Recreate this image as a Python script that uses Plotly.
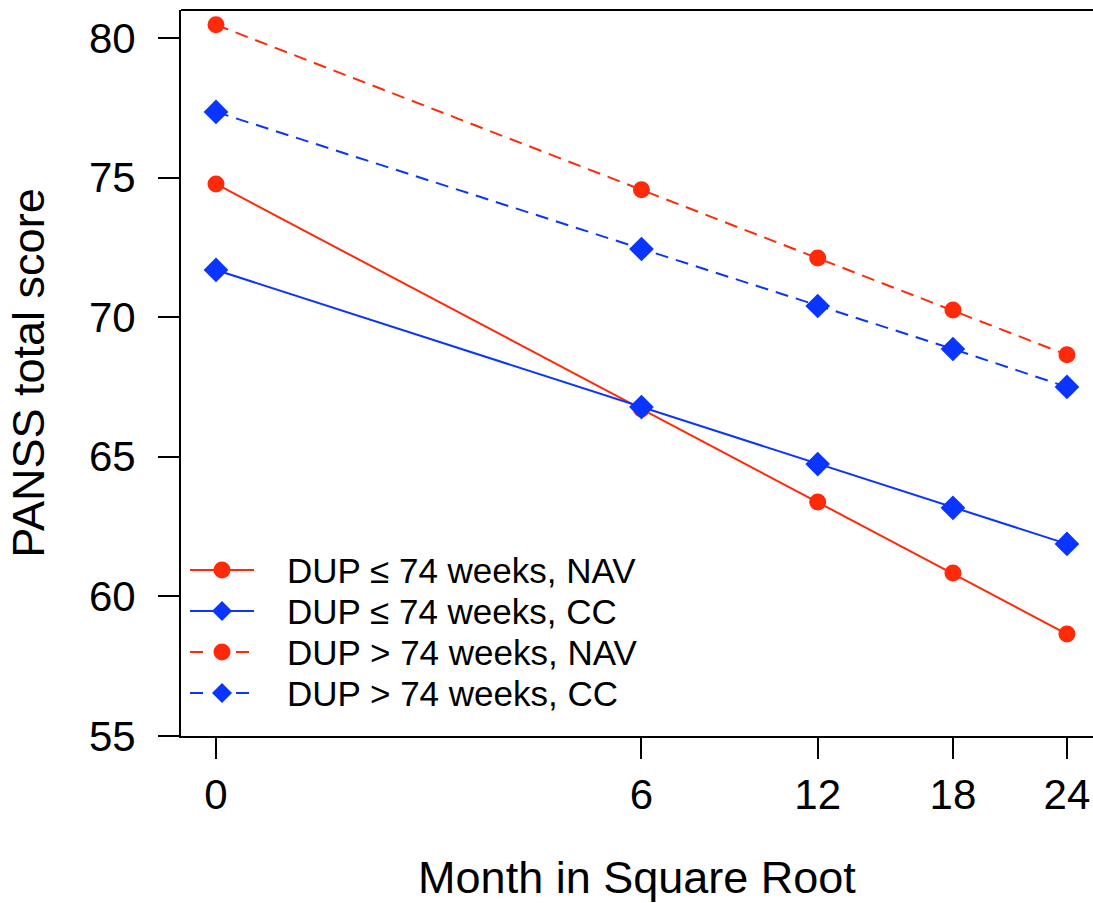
import numpy as np
import plotly.graph_objects as go

# Follow-up months (plotted on a square-root scale)
months = [0, 6, 12, 18, 24]
month_labels = ["0", "6", "12", "18", "24"]

# Estimated PANSS total scores by DUP group and treatment
dup_short_nav = [74.77, 66.71, 63.38, 60.84, 58.65]
dup_short_cc = [71.69, 66.78, 64.74, 63.17, 61.88]
dup_long_nav = [80.47, 74.56, 72.12, 70.26, 68.65]
dup_long_cc = [77.35, 72.44, 70.40, 68.86, 67.50]

y_ticks = [55, 60, 65, 70, 75, 80]

RED = "#FF2A0A"
BLUE = "#0A34FF"
FONT = "Liberation Sans, Arial, sans-serif"
DASH = "13px,8px"

W, H = 1093, 903
ML, MR, MT, MB = 181, 0, 10, 167
PW, PH = W - ML - MR, H - MT - MB

x_sqrt = np.sqrt(months)

series = [
    ("DUP \u2264 74 weeks, NAV", dup_short_nav, RED, "solid", "circle"),
    ("DUP \u2264 74 weeks, CC", dup_short_cc, BLUE, "solid", "diamond"),
    ("DUP > 74 weeks, NAV", dup_long_nav, RED, DASH, "circle"),
    ("DUP > 74 weeks, CC", dup_long_cc, BLUE, DASH, "diamond"),
]

fig = go.Figure()
for name, vals, color, dash, symbol in series:
    fig.add_trace(go.Scatter(
        x=x_sqrt, y=vals, name=name, mode="lines+markers", showlegend=False,
        line=dict(color=color, width=2, dash=dash),
        marker=dict(color=color, symbol=symbol, size=17 if symbol == "circle" else 19,
                    line=dict(width=0)),
    ))


def px(x):
    return (x - ML) / PW


def py(y):
    return (MT + PH - y) / PH


# Legend drawn as a key in the lower-left corner of the plot panel
shapes = [dict(type="line", xref="paper", yref="paper", x0=0, x1=1, y0=1, y1=1,
               line=dict(color="black", width=2))]
annotations = []
key_rows = [570, 611, 652, 693]
for (name, _, color, dash, symbol), yc in zip(series, key_rows):
    if dash == "solid":
        shapes.append(dict(type="line", xref="paper", yref="paper",
                           x0=px(190), x1=px(254), y0=py(yc), y1=py(yc),
                           line=dict(color=color, width=2)))
    else:
        for a, b in [(190, 203), (236, 249)]:
            shapes.append(dict(type="line", xref="paper", yref="paper",
                               x0=px(a), x1=px(b), y0=py(yc), y1=py(yc),
                               line=dict(color=color, width=2)))
    cx = 222
    if symbol == "circle":
        r = 8.5
        shapes.append(dict(type="circle", xref="paper", yref="paper",
                           x0=px(cx - r), x1=px(cx + r), y0=py(yc + r), y1=py(yc - r),
                           fillcolor=color, line=dict(width=0)))
    else:
        h = 10
        path = (f"M {px(cx - h)} {py(yc)} L {px(cx)} {py(yc - h)} "
                f"L {px(cx + h)} {py(yc)} L {px(cx)} {py(yc + h)} Z")
        shapes.append(dict(type="path", xref="paper", yref="paper", path=path,
                           fillcolor=color, line=dict(width=0)))
    annotations.append(dict(xref="paper", yref="paper", x=px(285), y=py(yc),
                            xanchor="left", yanchor="middle", showarrow=False,
                            text=name, font=dict(size=35, family=FONT, color="black")))

fig.update_layout(
    width=W, height=H,
    margin=dict(l=ML, r=MR, t=MT, b=MB),
    paper_bgcolor="white", plot_bgcolor="white",
    font=dict(family=FONT, color="black"),
    showlegend=False,
    xaxis=dict(
        range=[-0.2015, 5.049],
        tickvals=list(x_sqrt), ticktext=month_labels,
        showgrid=False, zeroline=False,
        showline=True, linecolor="black", linewidth=2,
        ticks="outside", ticklen=21, tickwidth=2, tickcolor="black",
        tickfont=dict(size=42, family=FONT, color="black"),
        title=dict(text="Month in Square Root", font=dict(size=45, family=FONT, color="black"),
                   standoff=46),
    ),
    yaxis=dict(
        range=[55, 81],
        tickvals=y_ticks,
        showgrid=False, zeroline=False,
        showline=True, linecolor="black", linewidth=2,
        ticks="outside", ticklen=21, tickwidth=2, tickcolor="black",
        ticklabelstandoff=14,
        tickfont=dict(size=42, family=FONT, color="black"),
        title=dict(text="PANSS total score", font=dict(size=45, family=FONT, color="black"),
                   standoff=30),
    ),
    shapes=shapes,
    annotations=annotations,
)

fig.write_html("out.html")
